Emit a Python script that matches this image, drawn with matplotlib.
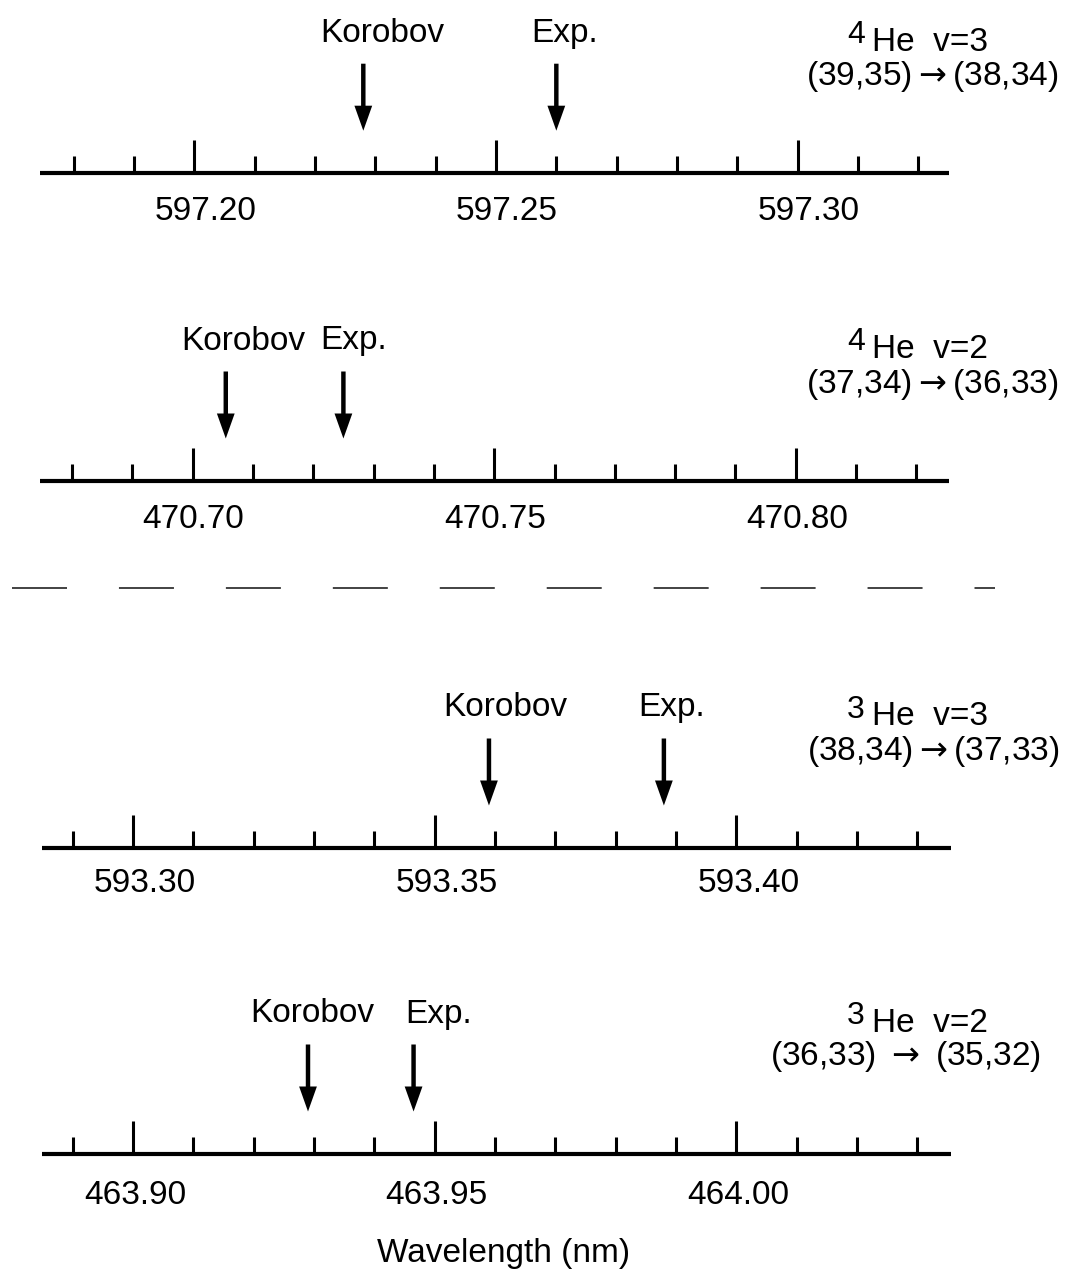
import numpy as np
import matplotlib.pyplot as plt
import matplotlib.transforms as mtransforms
from matplotlib.ticker import FixedLocator, FormatStrFormatter
from matplotlib.lines import Line2D

plt.rcParams['font.family'] = ['Liberation Sans', 'DejaVu Sans']
plt.rcParams['lines.scale_dashes'] = False

# --- data (wavelengths in nm) ---
isotopes = ["4", "4", "3", "3"]
vib = ["v=3", "v=2", "v=3", "v=2"]
transitions = [r"(39,35)$\rightarrow$(38,34)", r"(37,34)$\rightarrow$(36,33)",
               r"(38,34)$\rightarrow$(37,33)", r"(36,33) $\rightarrow$ (35,32)"]
korobov = [597.228, 470.7055, 593.359, 463.929]
experiment = [597.260, 470.725, 593.388, 463.9465]
major_start = [597.20, 470.70, 593.30, 463.90]
minor_start = [597.18, 470.68, 593.29, 463.89]
axis_ranges = [(597.1744, 597.3251), (470.6747, 470.8254),
               (593.2849, 593.4356), (463.8849, 464.0356)]

W, H = 1069, 1273
fig = plt.figure(figsize=(W / 100, H / 100), dpi=100)

def fx(x):
    return x / W

def fy(y):
    return 1 - y / H

FS = 24
# layout of each panel (pixels)
spine_y = [172.7, 480.5, 847.5, 1153.5]
left_px = [40, 40, 42, 42]
right_px = [949, 949, 951, 951]
pads = [17, 17, 15, 19]
label_dx = [11, 1, 12, 2]
kor_dx = [19, 18, 16, 4]
exp_dx = [8, 10, 8, 25]
trans_cx = [932, 932, 933, 906]
panel_h = 135

for i in range(4):
    ax = fig.add_axes([fx(left_px[i]), fy(spine_y[i]),
                       fx(right_px[i] - left_px[i]), panel_h / H])
    ax.set_xlim(*axis_ranges[i])
    ax.set_ylim(0, panel_h)
    for s in ["top", "left", "right"]:
        ax.spines[s].set_visible(False)
    ax.spines["bottom"].set_linewidth(3.0)
    ax.spines["bottom"].set_capstyle("butt")
    ax.yaxis.set_visible(False)
    ax.patch.set_visible(False)

    majors = np.round(major_start[i] + 0.05 * np.arange(3), 2)
    minors = np.round(minor_start[i] + 0.01 * np.arange(15), 2)
    minors = [m for m in minors if m not in majors]
    ax.xaxis.set_major_locator(FixedLocator(majors))
    ax.xaxis.set_minor_locator(FixedLocator(minors))
    ax.xaxis.set_major_formatter(FormatStrFormatter("%.2f"))
    ax.tick_params(axis="x", which="major", direction="in", length=24,
                   width=2.2, labelsize=FS, pad=pads[i])
    ax.tick_params(axis="x", which="minor", direction="in", length=12.5,
                   width=2.2)
    shift = mtransforms.ScaledTranslation(label_dx[i] / 100, 0,
                                          fig.dpi_scale_trans)
    for lab in ax.get_xticklabels():
        lab.set_transform(lab.get_transform() + shift)

    # arrows and their labels
    for xval, name, dx in [(korobov[i], "Korobov", kor_dx[i]),
                           (experiment[i], "Exp.", exp_dx[i])]:
        ax.annotate("", xy=(xval, 42), xytext=(xval, 109),
                    arrowprops=dict(arrowstyle="simple,head_length=1.8,"
                                    "head_width=1.28,tail_width=0.32",
                                    fc="k", ec="none", shrinkA=0, shrinkB=0,
                                    mutation_scale=10))
        ax.annotate(name, xy=(xval, 131), xytext=(dx * 0.72, 0),
                    textcoords="offset points", ha="center", va="baseline",
                    fontsize=FS, annotation_clip=False)

    # isotope / transition label on the right
    sy = spine_y[i]
    fig.text(fx(872), fy(sy - 122), "He  " + vib[i], ha="left",
             va="baseline", fontsize=FS)
    fig.text(fx(865), fy(sy - 130), isotopes[i], ha="right",
             va="baseline", fontsize=23)
    fig.text(fx(trans_cx[i]), fy(sy - 88), transitions[i], ha="center",
             va="baseline", fontsize=FS)

# dashed separator between the 4He and 3He panels
fig.add_artist(Line2D([fx(12), fx(995)], [fy(588), fy(588)],
                      transform=fig.transFigure, color="#222222",
                      linewidth=1.2, dashes=(39.6, 37.4)))

fig.text(fx(504), fy(1262), "Wavelength (nm)", ha="center",
         va="baseline", fontsize=FS)

fig.savefig("out.png", dpi=100)
